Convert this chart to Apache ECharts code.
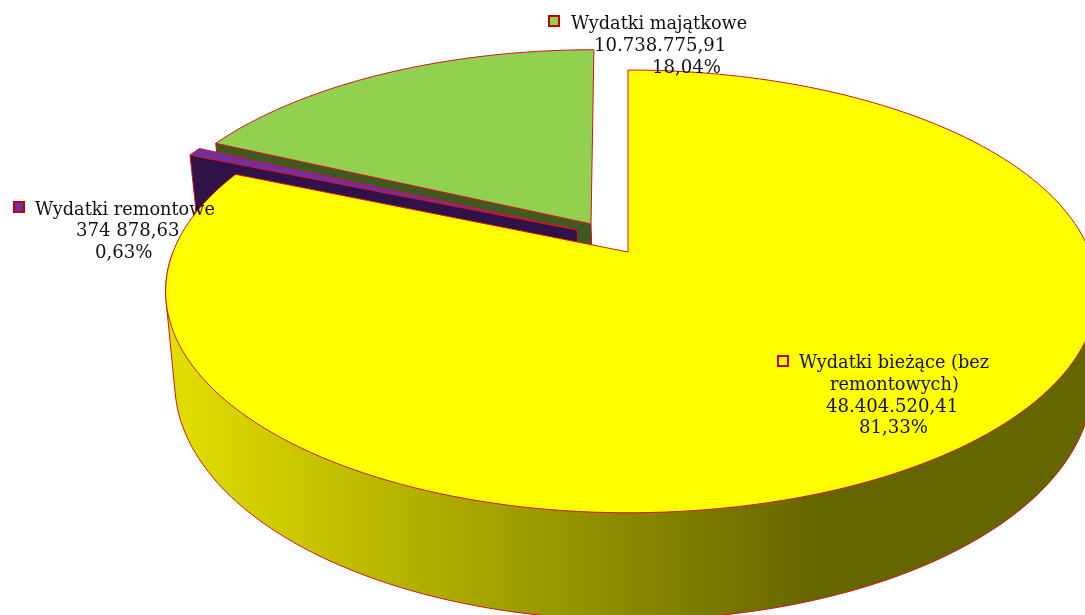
<!DOCTYPE html>
<html><head><meta charset="utf-8">
<style>html,body{margin:0;padding:0;background:#fff}#c{width:1085px;height:615px}</style>
<script src="https://cdn.jsdelivr.net/npm/echarts@6/dist/echarts.min.js"></script>
</head><body><div id="c"></div>
<script>
const categories = ['Wydatki bieżące (bez remontowych)', 'Wydatki remontowe', 'Wydatki majątkowe'];
const amounts = [48404520.41, 374878.63, 10738775.91];
const amountLabels = ['48.404.520,41', '374 878,63', '10.738.775,91'];
const percentLabels = ['81,33%', '0,63%', '18,04%'];
const topColors = ['#ffff00', '#7030a0', '#92d050'];
const wallColors = ['#666600', '#2e1248', '#3f5a20'];

// layout of the tilted pie (perspective disc), independent of the data
const explode = [[0, 0], [-0.125, -0.105], [-0.09, -0.134]];
const apexShift = [0, 5, 3];
const EDGE = '#d4141e';
const total = amounts.reduce((a, b) => a + b, 0);
const bounds = []; let acc = 0;
amounts.forEach(v => { const s = acc / total * 360; acc += v; bounds.push([s, acc / total * 360]); });

function proj(u, v, z) {
  const w = 1 - 0.178 * v;
  const bx = (u > 0 ? 462 : 455) - 7 * z;
  return [628 + 2 * z + bx * u / w, (169.5 * v + 252 + 88 * z) / w];
}
function rim(deg, off, z) {
  const t = deg * Math.PI / 180;
  return proj(Math.sin(t) + off[0], -Math.cos(t) + off[1], z);
}
function arc(a, b, off, z) {
  const n = Math.max(2, Math.ceil(Math.abs(b - a) / 1.5)), out = [];
  for (let i = 0; i <= n; i++) out.push(rim(a + (b - a) * i / n, off, z));
  return out;
}
function hull(pts) {
  const p = pts.slice().sort((a, b) => a[0] - b[0] || a[1] - b[1]);
  const cr = (o, a, b) => (a[0] - o[0]) * (b[1] - o[1]) - (a[1] - o[1]) * (b[0] - o[0]);
  const lo = [], up = [];
  for (const q of p) { while (lo.length > 1 && cr(lo[lo.length - 2], lo[lo.length - 1], q) <= 0) lo.pop(); lo.push(q); }
  for (const q of p.slice().reverse()) { while (up.length > 1 && cr(up[up.length - 2], up[up.length - 1], q) <= 0) up.pop(); up.push(q); }
  return lo.slice(0, -1).concat(up.slice(0, -1));
}
const poly = (points, fill, lw) => ({ type: 'polygon', shape: { points }, style: { fill, stroke: EDGE, lineWidth: lw === undefined ? 1 : lw } });

const wallGradient = { type: 'linear', x: 165, y: 0, x2: 815, y2: 0, global: true, colorStops: [
  { offset: 0, color: '#e2e000' }, { offset: 1, color: wallColors[0] } ] };

function slice(i) {
  const off = explode[i], [a, b] = bounds[i], out = [];
  const apexT = proj(off[0], off[1], 0), apexB = proj(off[0], off[1], 1);
  apexT[0] += apexShift[i]; apexB[0] += apexShift[i];
  if (i === 0) {
    const front = arc(90, 270, off, 0).concat(arc(90, 270, off, 1));
    out.push(poly(hull(front), wallGradient));
  } else {
    // radial cut face at the start of the slice
    const s0 = rim(a, off, 0), s1 = rim(a, off, 1);
    out.push(poly([apexT, s0, s1, apexB], wallColors[i]));
  }
  out.push(poly([apexT].concat(arc(a, b, off, 0)), topColors[i]));
  return out;
}

const FONT = '17.7px "DejaVu Serif", serif';
const NUM_FONT = '18.1px "DejaVu Serif", serif';
const labelLayout = [
  { key: [778, 356], lines: [[categories[0].split(' (')[0] + ' (bez', 799, 369], ['remontowych)', 830, 391], [amountLabels[0], 826, 413, 1], [percentLabels[0], 859, 434, 1]] },
  { key: [14, 202], lines: [[categories[1], 35, 216], [amountLabels[1], 76, 237, 1], [percentLabels[1], 95, 259, 1]] },
  { key: [549, 16], lines: [[categories[2], 571, 30], [amountLabels[2], 594, 52, 1], [percentLabels[2], 652, 74, 1]] }
];
function labels(i) {
  const l = labelLayout[i], out = [{ type: 'rect', shape: { x: l.key[0], y: l.key[1], width: 10, height: 10 },
    style: { fill: topColors[i], stroke: '#c00000', lineWidth: 2 } }];
  l.lines.forEach(t => out.push({ type: 'text', style: { text: t[0], x: t[1], y: t[2] - 6, font: t[3] ? NUM_FONT : FONT, fill: '#111', align: 'left', verticalAlign: 'middle' } }));
  return out;
}

const order = [2, 1, 0];
const chart = echarts.init(document.getElementById('c'), null, { renderer: 'canvas' });
chart.setOption({
  animation: false,
  backgroundColor: '#fff',
  series: [{
    type: 'custom', coordinateSystem: 'none', clip: false,
    data: amounts.map((v, i) => ({ value: v, name: categories[i] })),
    renderItem(params) {
      // drawn once as a single group, back to front, with labels above
      if (params.dataIndex !== 0) return { type: 'group', children: [] };
      const children = [];
      order.forEach(i => children.push(...slice(i)));
      [0, 1, 2].forEach(i => children.push(...labels(i)));
      return { type: 'group', children };
    }
  }]
});
</script></body></html>
